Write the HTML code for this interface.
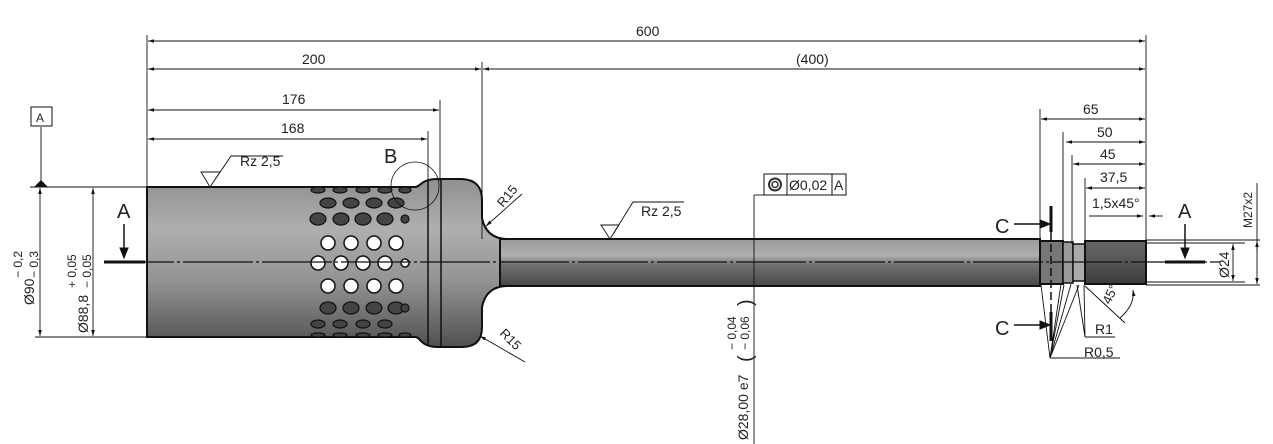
<!DOCTYPE html>
<html><head><meta charset="utf-8"><style>
html,body{margin:0;padding:0;background:#fff}
svg{display:block}
text{font-family:"Liberation Sans",sans-serif;fill:#222}
</style></head><body>
<svg width="1273" height="444" viewBox="0 0 1273 444" xmlns="http://www.w3.org/2000/svg" font-size="13">
<defs>
<linearGradient id="g" x1="0" y1="0" x2="0" y2="1">
<stop offset="0" stop-color="#909090"/><stop offset="0.3" stop-color="#afafaf"/><stop offset="0.6" stop-color="#949494"/><stop offset="1" stop-color="#505050"/>
</linearGradient>
<linearGradient id="g2" x1="0" y1="0" x2="0" y2="1">
<stop offset="0" stop-color="#9a9a9a"/><stop offset="0.35" stop-color="#b0b0b0"/><stop offset="0.55" stop-color="#707070"/><stop offset="1" stop-color="#484848"/>
</linearGradient>
<linearGradient id="g3" x1="0" y1="0" x2="0" y2="1">
<stop offset="0" stop-color="#666"/><stop offset="0.5" stop-color="#555"/><stop offset="1" stop-color="#3a3a3a"/>
</linearGradient>
<marker id="a" viewBox="0 0 10 6" refX="10" refY="3" markerWidth="8" markerHeight="4" orient="auto-start-reverse"><path d="M0,0L10,3L0,6z" fill="#111"/></marker>
</defs>

<path d="M147,187 L415,187 C421,187 420,179 438,179 L462,179 Q482,180 482,200 L482,218 Q486,238 506,239 L1040,239 L1040,286 L506,286 Q486,287 482,307 L482,327 Q482,347 462,347 L438,347 C420,347 421,337 415,337 L147,337 Z" fill="url(#g)" stroke="#111" stroke-width="2"/>
<rect x="500" y="239" width="540" height="47" fill="url(#g2)" stroke="#111" stroke-width="2"/>
<line x1="428" y1="181" x2="428" y2="345" stroke="#111" stroke-width="1.5"/>
<line x1="441" y1="179" x2="441" y2="347" stroke="#111" stroke-width="1.5"/>
<rect x="1040" y="241" width="23" height="43" fill="#777" stroke="#111" stroke-width="2"/>
<rect x="1063" y="242" width="10" height="41" fill="#999" stroke="#111" stroke-width="1.5"/>
<rect x="1073" y="244" width="12" height="37" fill="#aaa" stroke="#111" stroke-width="1.5"/>
<rect x="1085" y="241" width="61" height="43" fill="url(#g3)" stroke="#111" stroke-width="2"/>

<g fill="#444" stroke="#111" stroke-width="1.2">
<ellipse cx="318" cy="190" rx="7" ry="3"/><ellipse cx="340" cy="190" rx="7" ry="3"/><ellipse cx="363" cy="190" rx="7" ry="3"/><ellipse cx="385" cy="190" rx="7" ry="3"/><ellipse cx="405" cy="190" rx="6" ry="3"/>
<ellipse cx="328" cy="203" rx="8" ry="5"/><ellipse cx="351" cy="203" rx="8" ry="5"/><ellipse cx="374" cy="203" rx="8" ry="5"/><ellipse cx="396" cy="203" rx="8" ry="5"/>
<ellipse cx="318" cy="219" rx="8" ry="6"/><ellipse cx="341" cy="219" rx="8" ry="6"/><ellipse cx="363" cy="219" rx="8" ry="6"/><ellipse cx="385" cy="219" rx="8" ry="6"/><circle cx="405" cy="219" r="4"/>
<ellipse cx="328" cy="308" rx="8" ry="6"/><ellipse cx="351" cy="308" rx="8" ry="6"/><ellipse cx="374" cy="308" rx="8" ry="6"/><ellipse cx="396" cy="308" rx="8" ry="6"/><circle cx="405" cy="308" r="4"/>
<ellipse cx="318" cy="324" rx="7" ry="4"/><ellipse cx="340" cy="324" rx="7" ry="4"/><ellipse cx="363" cy="324" rx="7" ry="4"/><ellipse cx="385" cy="324" rx="7" ry="4"/>
<ellipse cx="318" cy="335" rx="7" ry="2"/><ellipse cx="340" cy="335" rx="7" ry="2"/><ellipse cx="363" cy="335" rx="7" ry="2"/><ellipse cx="385" cy="335" rx="7" ry="2"/><ellipse cx="405" cy="335" rx="6" ry="2"/>
</g>
<g fill="#fff" stroke="#111" stroke-width="1.5">
<circle cx="328" cy="243" r="7"/><circle cx="351" cy="243" r="7"/><circle cx="374" cy="243" r="7"/><circle cx="396" cy="243" r="7"/>
<circle cx="318" cy="263" r="7"/><circle cx="341" cy="263" r="7"/><circle cx="363" cy="263" r="7"/><circle cx="385" cy="263" r="7"/><circle cx="405" cy="263" r="4"/>
<circle cx="328" cy="286" r="7"/><circle cx="351" cy="286" r="7"/><circle cx="374" cy="286" r="7"/><circle cx="396" cy="286" r="7"/>
</g>

<line x1="104" y1="262" x2="1220" y2="262" stroke="#111" stroke-width="1.3" stroke-dasharray="70,3,3,3"/>

<g stroke="#111" stroke-width="0.9" fill="none">
<line x1="147" y1="35" x2="147" y2="187"/>
<line x1="482" y1="62" x2="482" y2="239"/>
<line x1="1146" y1="35" x2="1146" y2="241"/>
<line x1="440" y1="100" x2="440" y2="181"/>
<line x1="428" y1="131" x2="428" y2="183"/>
<line x1="148" y1="41" x2="1145" y2="41" marker-start="url(#a)" marker-end="url(#a)"/>
<line x1="148" y1="69" x2="481" y2="69" marker-start="url(#a)" marker-end="url(#a)"/>
<line x1="483" y1="69" x2="1145" y2="69" marker-start="url(#a)" marker-end="url(#a)"/>
<line x1="148" y1="110" x2="439" y2="110" marker-start="url(#a)" marker-end="url(#a)"/>
<line x1="148" y1="139" x2="427" y2="139" marker-start="url(#a)" marker-end="url(#a)"/>
<line x1="1040" y1="109" x2="1040" y2="241"/>
<line x1="1063" y1="132" x2="1063" y2="242"/>
<line x1="1072" y1="155" x2="1072" y2="244"/>
<line x1="1085" y1="178" x2="1085" y2="241"/>
<line x1="1041" y1="119" x2="1145" y2="119" marker-start="url(#a)" marker-end="url(#a)"/>
<line x1="1066" y1="142" x2="1145" y2="142" marker-start="url(#a)" marker-end="url(#a)"/>
<line x1="1073" y1="164" x2="1145" y2="164" marker-start="url(#a)" marker-end="url(#a)"/>
<line x1="1086" y1="188" x2="1145" y2="188" marker-start="url(#a)" marker-end="url(#a)"/>
<line x1="1089" y1="216" x2="1143" y2="216" marker-end="url(#a)"/>
<line x1="1163" y1="216" x2="1149" y2="216" marker-end="url(#a)"/>
<line x1="30" y1="187" x2="147" y2="187"/>
<line x1="35" y1="337" x2="147" y2="337"/>
<line x1="40" y1="188" x2="40" y2="336" marker-start="url(#a)" marker-end="url(#a)"/>
<line x1="93" y1="188" x2="93" y2="336" marker-start="url(#a)" marker-end="url(#a)"/>
<line x1="1146" y1="240" x2="1260" y2="240"/>
<line x1="1146" y1="285" x2="1260" y2="285"/>
<line x1="1146" y1="243" x2="1245" y2="243"/>
<line x1="1146" y1="282" x2="1245" y2="282"/>
<line x1="1257" y1="183" x2="1257" y2="284" marker-end="url(#a)"/>
<line x1="1257" y1="252" x2="1257" y2="241" marker-end="url(#a)"/>
<line x1="1233" y1="244" x2="1233" y2="281" marker-start="url(#a)" marker-end="url(#a)"/>
<line x1="754" y1="195" x2="754" y2="444"/>
<line x1="754" y1="195" x2="764" y2="195"/>
<line x1="41" y1="127" x2="41" y2="187"/>
</g>
<path d="M34,187 L41,180 L48,187Z" fill="#111"/>
<rect x="31" y="107" width="21" height="19" fill="#fff" stroke="#111"/>
<text x="36" y="122" font-size="12">A</text>

<g stroke="#111" fill="#111">
<line x1="124" y1="224" x2="124" y2="252" stroke-width="1.5"/><path d="M120,248L124,258L128,248Z"/>
<line x1="104" y1="262" x2="145" y2="262" stroke-width="3"/>
<line x1="1185" y1="224" x2="1185" y2="252" stroke-width="1.5"/><path d="M1181,248L1185,258L1189,248Z"/>
<line x1="1165" y1="262" x2="1205" y2="262" stroke-width="3"/>
<line x1="1014" y1="224" x2="1048" y2="224" stroke-width="1.5"/><path d="M1040,220L1050,224L1040,228Z"/>
<line x1="1051" y1="206" x2="1051" y2="232" stroke-width="3"/>
<line x1="1014" y1="325" x2="1048" y2="325" stroke-width="1.5"/><path d="M1040,321L1050,325L1040,329Z"/>
<line x1="1051" y1="312" x2="1051" y2="341" stroke-width="3"/>
<line x1="1051" y1="232" x2="1051" y2="312" stroke-width="1.5" stroke-dasharray="8,4" fill="none"/>
</g>
<text x="117" y="218" font-size="20">A</text>
<text x="1178" y="218" font-size="20">A</text>
<text x="995" y="233" font-size="20">C</text>
<text x="995" y="335" font-size="20">C</text>
<text x="384" y="163" font-size="20">B</text>
<circle cx="415" cy="186" r="24" fill="none" stroke="#111" stroke-width="0.8"/>

<g stroke="#111" stroke-width="0.9" fill="none">
<path d="M210,187 L201,172 L220,172 L210,187 L231,156 L283,156"/>
<path d="M610,239 L601,225 L619,225 L610,239 L633,202 L684,202"/>
<line x1="522" y1="194" x2="486" y2="226" marker-end="url(#a)"/>
<line x1="525" y1="362" x2="480" y2="336" marker-end="url(#a)"/>
<path d="M1050,358 L1041,285 M1050,358 L1061,284 M1050,358 L1064,285 M1050,358 L1071,284 M1050,358 L1079,285 M1050,358 L1120,358"/>
<path d="M1085,337 L1077,285 M1085,337 L1084,285 M1085,337 L1115,337"/>
<line x1="1085" y1="286" x2="1125" y2="323"/>
<path d="M1120,318 Q1135,305 1133,290" marker-end="url(#a)"/>
</g>
<text x="240" y="166" font-size="14">Rz 2,5</text>
<text x="641" y="216" font-size="14">Rz 2,5</text>
<text transform="translate(503,208) rotate(-50)">R15</text>
<text transform="translate(499,334) rotate(45)">R15</text>
<text x="1095" y="334" font-size="14">R1</text>
<text x="1084" y="357" font-size="14">R0,5</text>
<text transform="translate(1110,305) rotate(-65)">45°</text>

<text x="636" y="36" font-size="14">600</text>
<text x="302" y="64" font-size="14">200</text>
<text x="796" y="64" font-size="14">(400)</text>
<text x="282" y="104" font-size="14">176</text>
<text x="281" y="133" font-size="14">168</text>
<text x="1083" y="114" font-size="14">65</text>
<text x="1097" y="137" font-size="14">50</text>
<text x="1100" y="159" font-size="14">45</text>
<text x="1100" y="182" font-size="14">37,5</text>
<text x="1092" y="208" font-size="14">1,5x45°</text>
<text transform="translate(1252,228) rotate(-90)" font-size="12">M27x2</text>
<text transform="translate(1229,278) rotate(-90)" font-size="14">Ø24</text>
<text transform="translate(34,305) rotate(-90)" font-size="14">Ø90</text>
<text transform="translate(22,278) rotate(-90)" font-size="12">− 0,2</text>
<text transform="translate(38,278) rotate(-90)" font-size="12">− 0,3</text>
<text transform="translate(88,333) rotate(-90)" font-size="14">Ø88,8</text>
<text transform="translate(76,288) rotate(-90)" font-size="12">+ 0,05</text>
<text transform="translate(91,288) rotate(-90)" font-size="12">− 0,05</text>
<text transform="translate(748,440) rotate(-90)" font-size="14">Ø28,00 e7</text>
<text transform="translate(752,362) rotate(-90)" font-size="20">(</text>
<text transform="translate(736,350) rotate(-90)" font-size="12">− 0,04</text>
<text transform="translate(749,350) rotate(-90)" font-size="12">− 0,06</text>
<text transform="translate(752,306) rotate(-90)" font-size="20">)</text>

<rect x="764" y="174" width="82" height="21" fill="#fff" stroke="#111"/>
<line x1="787" y1="174" x2="787" y2="195" stroke="#111"/>
<line x1="832" y1="174" x2="832" y2="195" stroke="#111"/>
<circle cx="775" cy="184.5" r="6" fill="none" stroke="#333" stroke-width="2"/>
<circle cx="775" cy="184.5" r="3" fill="none" stroke="#333" stroke-width="1.5"/>
<text x="789" y="190" font-size="14">Ø0,02</text>
<text x="834" y="190" font-size="14">A</text>
</svg>
</body></html>
